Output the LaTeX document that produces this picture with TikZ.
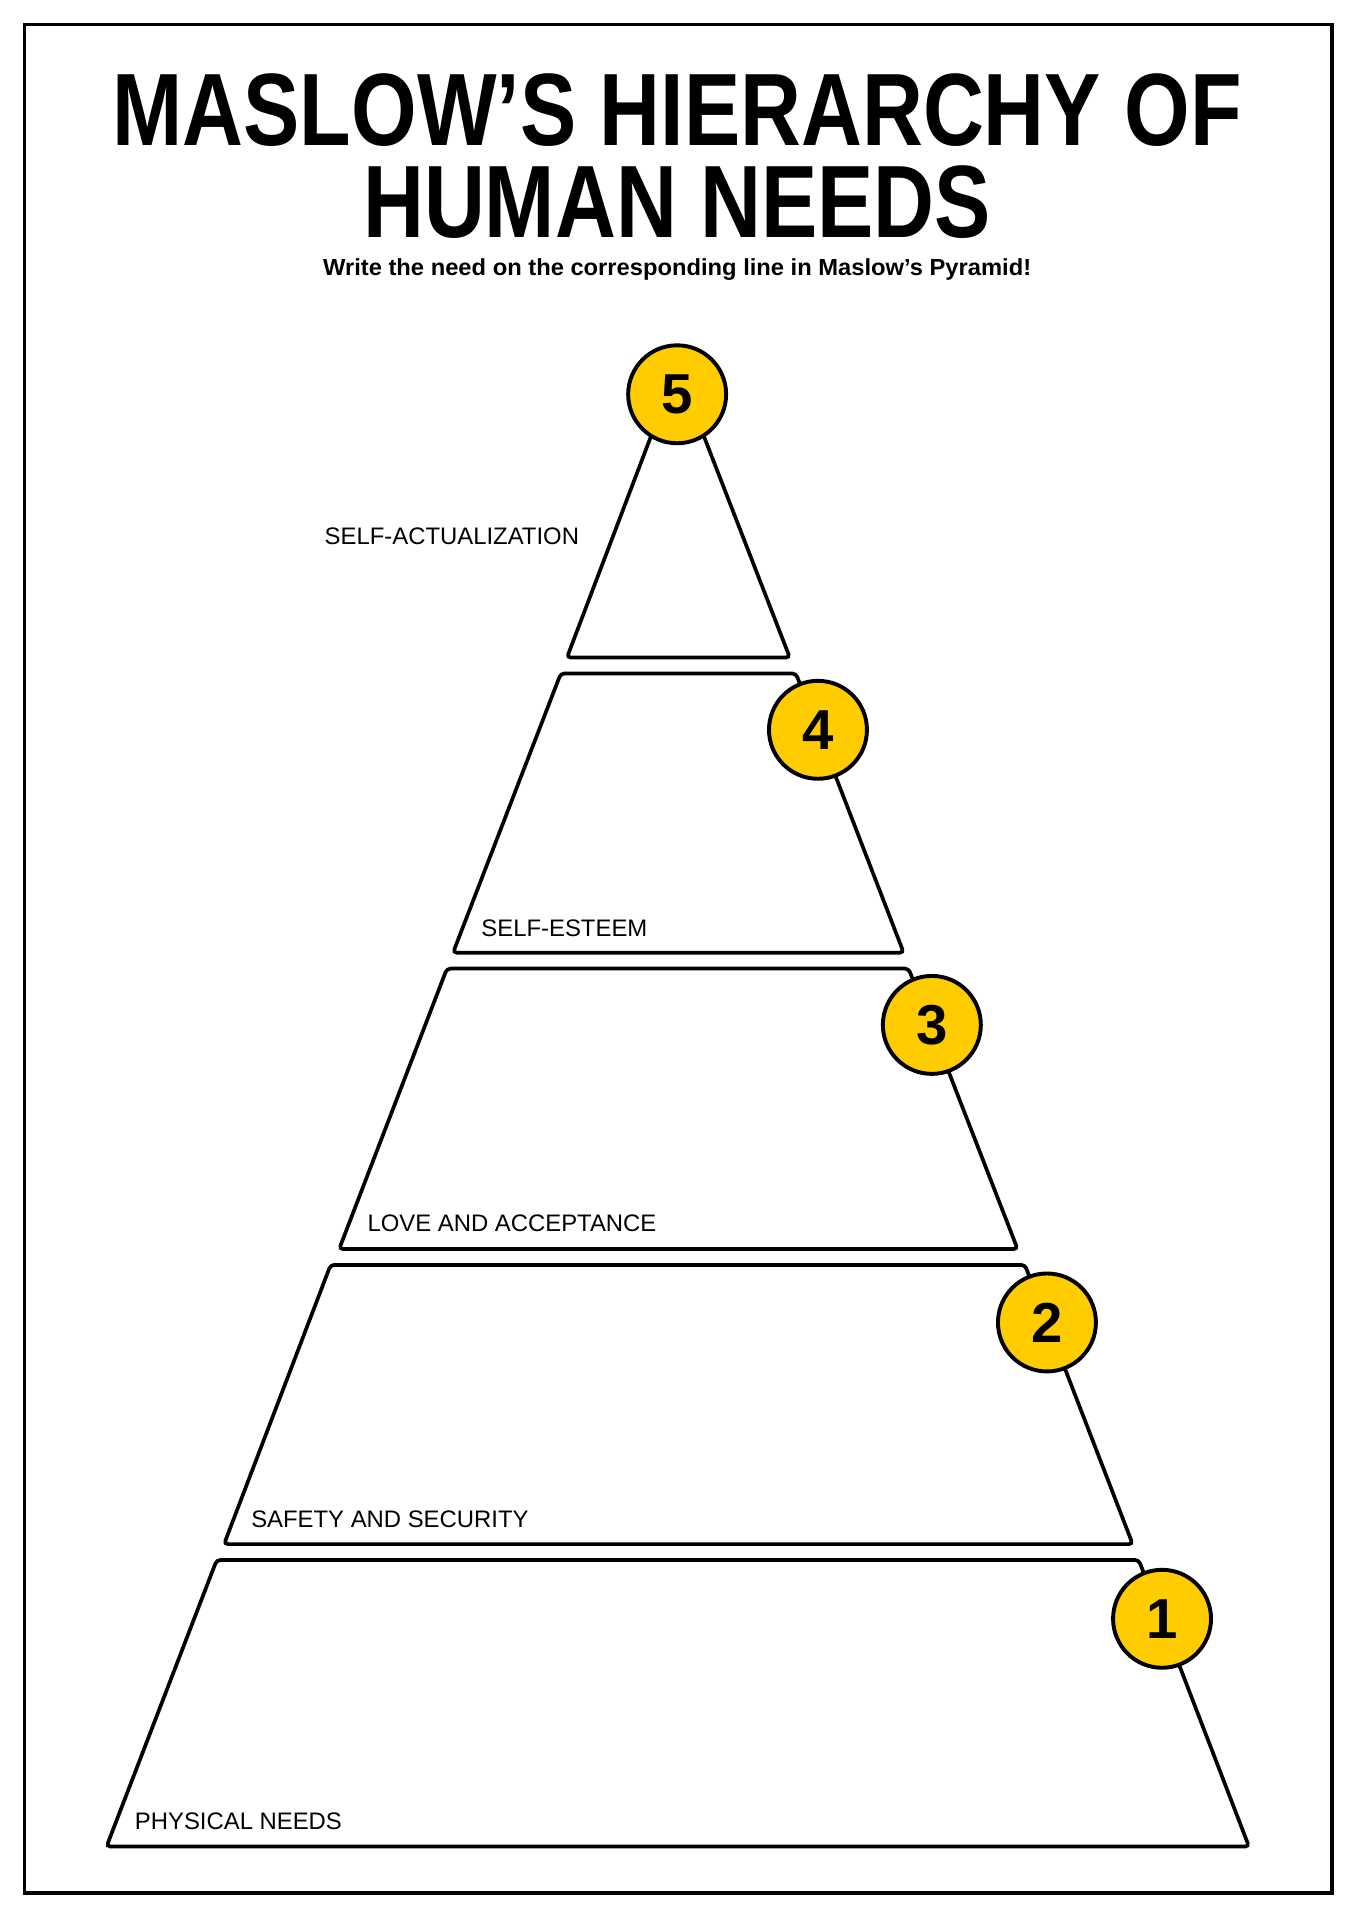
\documentclass[tikz,border=0pt]{standalone}
\usepackage{fontspec}
\setmainfont{Liberation Sans}
\usetikzlibrary{positioning}
\definecolor{goldyellow}{RGB}{255,204,0}

\tikzset{
  level/.style={draw=black, line width=3pt, rounded corners=3pt, fill=white},
  rank/.style={circle, draw=black, line width=3.2pt, fill=goldyellow, minimum size=80pt, inner sep=0pt, font=\fontsize{46}{46}\selectfont\bfseries},
  need/.style={anchor=west, inner sep=0pt, font=\fontsize{19.5}{19.5}\selectfont},
  heading/.style={font=\fontsize{84}{84}\selectfont\bfseries}
}

\begin{document}
\begin{tikzpicture}[x=1pt, y=-1pt]
\useasboundingbox (0,0) rectangle (1108,1568);
\draw[line width=3pt] (20,20) rectangle (1088,1546);

% heading
\node[heading] (title1) at (553,90) {\scalebox{0.82}[1]{MASLOW’S HIERARCHY OF}};
\node[heading] (title2) at (553,165) {\scalebox{0.82}[1]{HUMAN NEEDS}};
\node[font=\fontsize{19}{19}\selectfont\bfseries] (sub) at (553,220) {\scalebox{1.02}[1]{Write the need on the corresponding line in Maslow’s Pyramid!}};

% pyramid levels
\draw[level] (553,300) -- (645,537) -- (463,537) -- cycle;
\draw[level] (458,550) -- (650,550) -- (738,778) -- (370,778) -- cycle;
\draw[level] (365,791) -- (742,791) -- (831,1020) -- (277,1020) -- cycle;
\draw[level] (270,1033) -- (837,1033) -- (925,1261) -- (183,1261) -- cycle;
\draw[level] (177,1274) -- (930,1274) -- (1020,1508) -- (87,1508) -- cycle;

% numbers
\node[rank] (s5) at (553,322) {5};
\node[rank] (s4) at (668,596) {4};
\node[rank] (s3) at (761,837) {3};
\node[rank] (s2) at (855,1080) {2};
\node[rank] (s1) at (949,1322) {1};

% labels
\node[need] (n5) at (265,438) {SELF-ACTUALIZATION};
\node[need] (n4) at (393,758) {SELF-ESTEEM};
\node[need] (n3) at (300,999) {LOVE AND ACCEPTANCE};
\node[need] (n2) at (205,1241) {SAFETY AND SECURITY};
\node[need] (n1) at (110,1487) {PHYSICAL NEEDS};
\end{tikzpicture}
\end{document}
